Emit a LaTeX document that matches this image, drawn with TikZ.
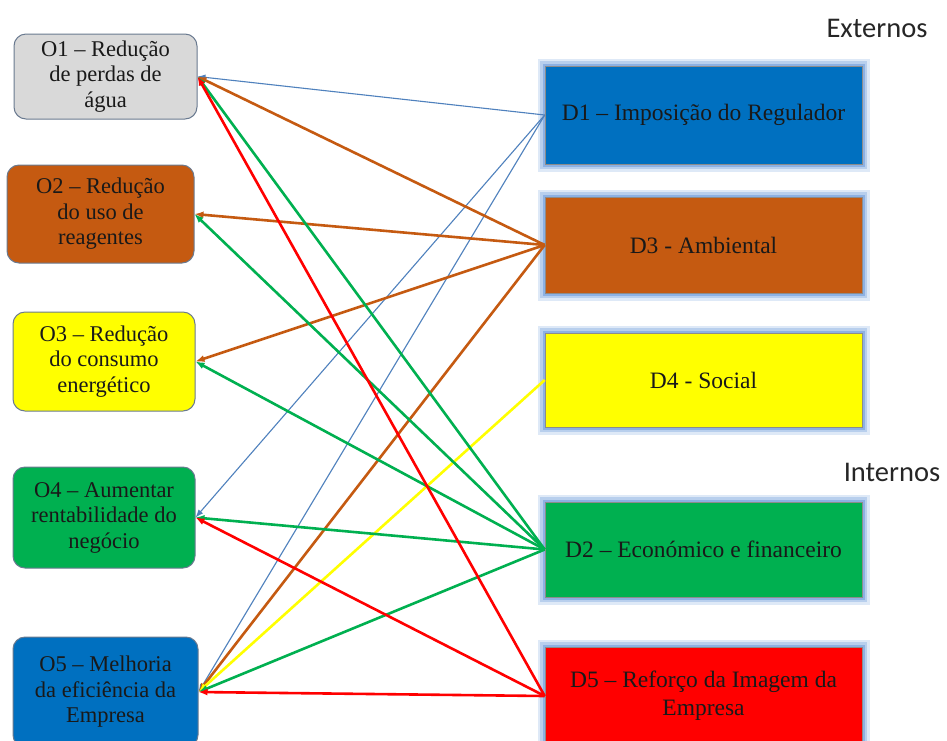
\documentclass[tikz,border=0pt]{standalone}
\usepackage{fontspec}
\setmainfont{Liberation Serif}
\newfontfamily\groupfont{Carlito}
\usetikzlibrary{arrows.meta}
\definecolor{cGray}{HTML}{D9D9D9}
\definecolor{cBrown}{HTML}{C55A11}
\definecolor{cYellow}{HTML}{FFFF00}
\definecolor{cGreen}{HTML}{00B050}
\definecolor{cBlue}{HTML}{0070C0}
\definecolor{cRed}{HTML}{FF0000}
\definecolor{cLine}{HTML}{4F81BD}
\definecolor{cGlow}{HTML}{7FA8E0}
\definecolor{cEdge}{HTML}{6A7A90}
\begin{document}
\begin{tikzpicture}[x=1pt,y=-1pt,
  obj/.style={draw=cEdge, line width=1pt, rounded corners=12pt, align=center,
    inner sep=0pt, text=black!90, font=\fontsize{22.5}{25.5}\selectfont},
  drv/.style={draw=black!45, line width=0.6pt, align=center, inner sep=0pt,
    text=black!90, minimum width=317pt, font=\fontsize{23.5}{28}\selectfont,
    preaction={draw=cGlow, line width=15pt, opacity=0.25},
    preaction={draw=cGlow, line width=10pt, opacity=0.4},
    preaction={draw=cGlow, line width=5pt, opacity=0.75}},
  grp/.style={font=\groupfont\fontsize{28.5}{30}\selectfont, text=black!85},
  link/.style={line width=2.6pt, -{Latex[length=9pt,width=7pt]}},
  thin/.style={line width=1.1pt, -{Latex[length=8pt,width=6pt]}}
]
\useasboundingbox (0,0) rectangle (947,740);
\clip (0,0) rectangle (947,740);
\fill[white] (0,0) rectangle (947,740);

% objectives (left column)
\node[obj, fill=cGray,   minimum width=183pt, minimum height=85pt]  (o1) at (105.5,76.5) {O1 – Redução\\de perdas de\\água};
\node[obj, fill=cBrown,  minimum width=187pt, minimum height=98pt]  (o2) at (100.5,214)  {O2 – Redução\\do uso de\\reagentes};
\node[obj, fill=cYellow, minimum width=182pt, minimum height=99pt]  (o3) at (104,361.5)  {O3 – Redução\\do consumo\\energético};
\node[obj, fill=cGreen,  minimum width=182pt, minimum height=101pt] (o4) at (104,517.5)  {O4 – Aumentar\\rentabilidade do\\negócio};
\node[obj, fill=cBlue,   minimum width=185pt, minimum height=110pt] (o5) at (105.5,692)  {O5 – Melhoria\\da eficiência da\\Empresa};

% drivers (right column)
\node[drv, fill=cBlue,   minimum height=98pt] (d1) at (703.5,115)   {D1 – Imposição do Regulador};
\node[drv, fill=cBrown,  minimum height=96pt] (d3) at (703.5,245)   {D3 - Ambiental};
\node[drv, fill=cYellow, minimum height=94pt] (d4) at (703.5,380)   {D4 - Social};
\node[drv, fill=cGreen,  minimum height=95pt] (d2) at (703.5,549.5) {D2 – Económico e financeiro};
\node[drv, fill=cRed,    minimum height=98pt] (d5) at (703.5,696)   {D5 – Reforço da Imagem da\\Empresa};

% group labels
\node[grp] (ext) at (877,28)  {Externos};
\node[grp] (int) at (892,472) {Internos};

% D1 links
\draw[thin, cLine] (d1.west) -- (o1.east);
\draw[thin, cLine] (d1.west) -- (o4.east);
\draw[thin, cLine] (d1.west) -- (o5.east);
% D3 links
\draw[link, cBrown] (d3.west) -- (o1.east);
\draw[link, cBrown] (d3.west) -- (o2.east);
\draw[link, cBrown] (d3.west) -- (o3.east);
\draw[link, cBrown] (d3.west) -- (o5.east);
% D4 links
\draw[link, cYellow] (d4.west) -- (o5.east);
% D2 links
\draw[link, cGreen] (d2.west) -- (o1.east);
\draw[link, cGreen] (d2.west) -- (o2.east);
\draw[link, cGreen] (d2.west) -- (o3.east);
\draw[link, cGreen] (d2.west) -- (o4.east);
\draw[link, cGreen] (d2.west) -- (o5.east);
% D5 links
\draw[link, cRed] (d5.west) -- (o1.east);
\draw[link, cRed] (d5.west) -- (o4.east);
\draw[link, cRed] (d5.west) -- (o5.east);
\end{tikzpicture}
\end{document}
